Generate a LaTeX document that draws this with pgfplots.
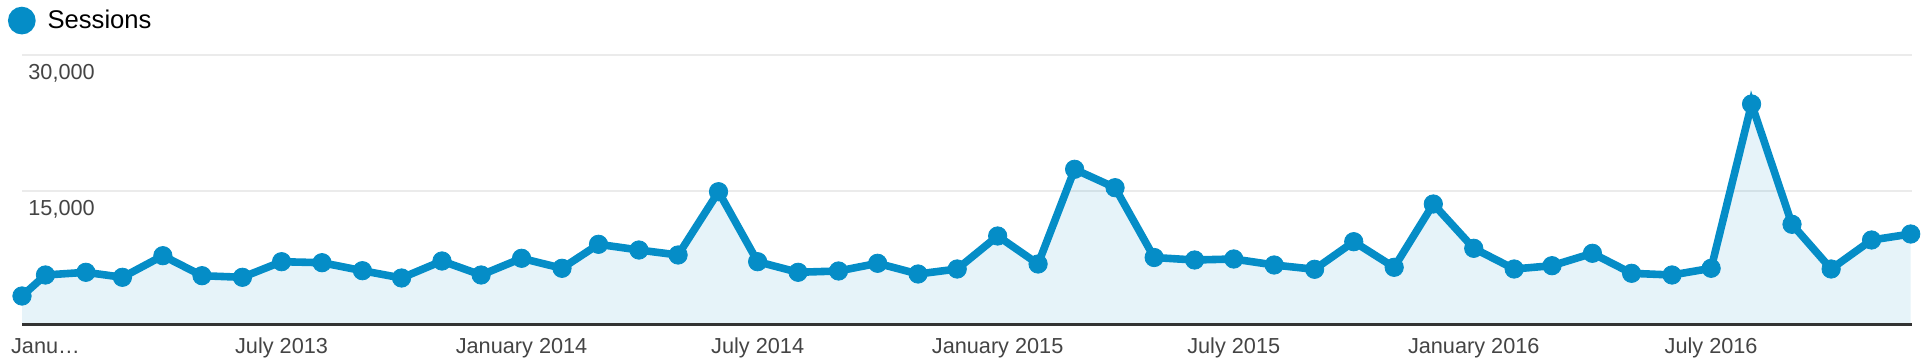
\documentclass[border=0pt]{standalone}
\usepackage{fontspec}
\setmainfont{Liberation Sans}
\usepackage{pgfplots}
\usepackage{pgfplotstable}
\pgfplotsset{compat=1.18}
\definecolor{gablue}{HTML}{058DC7}
\definecolor{gagrid}{HTML}{EBEBEB}
\definecolor{gatext}{HTML}{444444}
\definecolor{gaaxis}{HTML}{333333}

% x = days since 1 January 2013, y = sessions
\pgfplotstableread{
x y
-18 3321
0 5646
31 5945
59 5391
90 7782
120 5568
151 5391
181 7118
212 7007
243 6122
273 5314
304 7196
334 5646
365 7494
396 6387
424 9044
455 8413
485 7860
516 14867
546 7118
577 5945
608 6089
638 6941
669 5756
699 6310
730 9963
761 6863
789 17347
820 15310
850 7583
881 7306
911 7417
942 6753
973 6277
1003 9332
1034 6498
1064 13505
1095 8601
1126 6310
1155 6675
1186 8048
1216 5834
1247 5646
1277 6387
1308 24575
1339 11258
1369 6310
1400 9520
1430 10184
}\sessions

\begin{document}
\begin{tikzpicture}
\useasboundingbox (0,0) rectangle (961pt,182pt);
\begin{axis}[
  at={(11pt,19pt)}, anchor=south west,
  scale only axis, width=945pt, height=135.5pt,
  xmin=-18, xmax=1431, ymin=0, ymax=30000,
  clip=false,
  scaled y ticks=false, scaled x ticks=false,
  axis line style={draw=none},
  tick style={draw=none},
  xtick={0,181,365,546,730,911,1095,1277},
  xticklabels={Janu…, July 2013, January 2014, July 2014, January 2015, July 2015, January 2016, July 2016},
  ytick={15000,30000},
  yticklabels={{15,000},{30,000}},
  ymajorgrids,
  grid style={gagrid, line width=1pt},
  xticklabel style={anchor=base, yshift=-13.5pt, inner sep=0pt, font=\fontsize{10.85}{13}\selectfont, text=gatext},
  yticklabel style={anchor=base west, xshift=3pt, yshift=-12.4pt, inner sep=0pt, font=\fontsize{10.85}{13}\selectfont, text=gatext},
  legend style={at={(axis description cs:-0.0074,1.127)}, anchor=west, draw=none, fill=none, inner sep=0pt, outer sep=0pt,
    font=\fontsize{12.8}{15}\selectfont, text=black,
    /tikz/every odd column/.append style={column sep=4pt}},
]
\addplot[draw=none, fill=gablue, fill opacity=0.1, forget plot] table {\sessions} \closedcycle;
\draw[gaaxis, line width=1.1pt] ([yshift=0.75pt]axis cs:-18,0) -- ([yshift=0.75pt]axis cs:1431,0);
\addplot[gablue, line width=3.8pt, mark=*, mark size=4.6pt,
  mark options={solid, fill=gablue, draw=gablue, line width=0.4pt},
  legend image code/.code={\fill[gablue] (5pt,0pt) circle (5pt);}] table {\sessions};
\addlegendentry{Sessions}
\end{axis}
\end{tikzpicture}
\end{document}
